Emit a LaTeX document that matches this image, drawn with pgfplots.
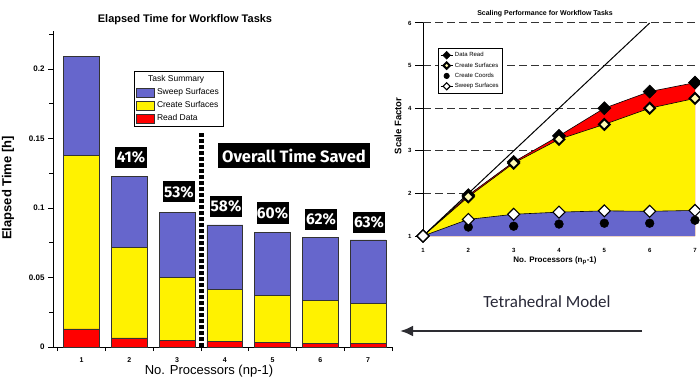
\documentclass[border=0pt]{standalone}
\usepackage{pgfplots}
\pgfplotsset{compat=1.18}
\usepackage{fontspec}
\setmainfont{Liberation Sans}
\newfontfamily\fira{Fira Sans}
\newfontfamily\carlito{Carlito}
\usetikzlibrary{arrows.meta}
\definecolor{sweepblue}{RGB}{102,102,204}
\definecolor{arrowgray}{RGB}{45,45,50}
\definecolor{tetra}{RGB}{40,40,55}
\pgfplotsset{patch legend/.style={legend image code/.code={\draw[##1] (0pt,-4.5pt) rectangle (18pt,4.5pt);}}}
\begin{document}
\begin{tikzpicture}[x=1pt,y=1pt]
\useasboundingbox (0,0) rectangle (700,383);
\fill[white] (0,0) rectangle (700,383);

% ---------------- left chart ----------------
\begin{axis}[
  at={(53pt,36pt)}, anchor=south west, scale only axis,
  width=339pt, height=315.5pt,
  xmin=0.4, xmax=7.5, ymin=0, ymax=0.227,
  axis x line*=bottom, axis y line*=left,
  axis line style={line width=0.8pt,-},
  ybar stacked, bar width=0.75,
  xtick={1,2,3,4,5,6,7}, xticklabels={1,2,3,4,5,6,7},
  minor xtick={0.5,1.5,2.5,3.5,4.5,5.5,6.5,7.5},
  major x tick style={draw=none},
  ytick={0,0.05,0.1,0.15,0.2}, yticklabels={0,0.05,0.1,0.15,0.2},
  minor ytick={0.025,0.075,0.125,0.175,0.225},
  tick align=outside, major tick length=5pt, minor tick length=4pt,
  tick style={line width=0.7pt,black},
  xticklabel style={font=\fontsize{7}{8}\selectfont\bfseries},
  xticklabel shift=2pt,
  yticklabel style={font=\fontsize{8}{9}\selectfont\bfseries},
  legend cell align=left, reverse legend,
  legend style={at={(0.239,0.875)}, anchor=north west, draw=black, line width=0.8pt,
    font=\fontsize{8.5}{10}\selectfont, row sep=1.5pt, inner sep=2pt},
]
\addplot[fill=red, draw=black!80, line width=0.6pt, patch legend] coordinates {(1,0.013)(2,0.0065)(3,0.0048)(4,0.0041)(5,0.0034)(6,0.0027)(7,0.0027)};
\addlegendentry{Read Data}
\addplot[fill=yellow, draw=black!80, line width=0.6pt, patch legend] coordinates {(1,0.125)(2,0.0649)(3,0.0452)(4,0.0376)(5,0.0338)(6,0.0306)(7,0.0287)};
\addlegendentry{Create Surfaces}
\addplot[fill=sweepblue, draw=black!80, line width=0.6pt, patch legend] coordinates {(1,0.071)(2,0.0516)(3,0.047)(4,0.0461)(5,0.0453)(6,0.0456)(7,0.0456)};
\addlegendentry{Sweep Surfaces}
\addlegendimage{empty legend}
\addlegendentry{\hspace*{-9pt}Task Summary}
\draw[line width=5pt, dash pattern=on 4pt off 2pt] (axis cs:3.5,0) -- (axis cs:3.5,0.154);
\end{axis}

% percentage labels
\tikzset{pct/.style={fill=black, text=white, inner sep=0pt, minimum width=32pt, minimum height=21pt, font=\fira\bfseries\fontsize{15.5}{15.5}\selectfont}}
\node[pct] at (131,383-157.5) {41\%};
\node[pct] at (179,383-192) {53\%};
\node[pct] at (226,383-206.5) {58\%};
\node[pct] at (272.5,383-213) {60\%};
\node[pct] at (321,383-219) {62\%};
\node[pct] at (369,383-222) {63\%};
\node[fill=black, text=white, inner sep=0pt, minimum width=152pt, minimum height=25pt, font=\fira\bfseries\fontsize{16.5}{16.5}\selectfont] at (294,383-155.5) {Overall Time Saved};

\node[font=\bfseries\fontsize{11}{12}\selectfont] at (185,383-20) {Elapsed Time for Workflow Tasks};
\node[rotate=90, font=\bfseries\fontsize{13}{14}\selectfont] at (8,383-188) {Elapsed Time [h]};
\node[font=\fontsize{13}{14}\selectfont] at (209,383-371) {No. Processors (np-1)};

% ---------------- right chart ----------------
\begin{axis}[
  at={(423pt,147pt)}, anchor=south west, scale only axis,
  width=272pt, height=213pt,
  xmin=1, xmax=7, ymin=1, ymax=6, clip=false,
  axis x line*=bottom, axis y line*=left,
  x axis line style={draw=none}, y axis line style={line width=1pt,-},
  xtick={1,2,3,4,5,6,7}, xticklabels={1,2,3,4,5,6,7}, xtick style={draw=none},
  ytick={2,3,4,5,6}, yticklabels={2,3,4,5,6},
  extra y ticks={1}, extra y tick labels={1}, extra y tick style={grid=none},
  ytick style={line width=1pt,black}, tick align=outside, major tick length=8pt,
  ymajorgrids, grid style={black!80, line width=1pt, dash pattern=on 8pt off 4pt},
  ticklabel style={font=\fontsize{6}{7}\selectfont\bfseries},
  xticklabel shift=1pt,
  legend cell align=left,
  legend style={at={(0.055,0.883)}, anchor=north west, draw=black, line width=0.8pt,
    font=\fontsize{6}{7}\selectfont, row sep=0.5pt, inner sep=2pt},
  legend image code/.code={\draw[mark repeat=2,mark phase=2,#1] plot coordinates {(0pt,0pt)(6pt,0pt)(12pt,0pt)};},
  legend image post style={/tikz/every mark/.append style={scale=0.6}},
]
\addplot[fill=red, draw=none, forget plot] coordinates {(1,1)(2,1.96)(3,2.74)(4,3.35)(5,4.0)(6,4.39)(7,4.6)(7,1)} -- cycle;
\addplot[fill=yellow, draw=none, forget plot] coordinates {(1,1)(2,1.92)(3,2.71)(4,3.27)(5,3.62)(6,4.0)(7,4.23)(7,1)} -- cycle;
\addplot[fill=sweepblue, draw=none, forget plot] coordinates {(1,1)(2,1.39)(3,1.51)(4,1.56)(5,1.59)(6,1.58)(7,1.6)(7,1)} -- cycle;
\addplot[black, line width=1pt, forget plot] coordinates {(1,1)(6,6)};
\addplot[black, line width=0.6pt, mark=square*, mark size=4.6pt, mark options={rotate=45, fill=black}] coordinates {(1,1)(2,1.96)(3,2.74)(4,3.35)(5,4.0)(6,4.39)(7,4.6)};
\addlegendentry{Data Read}
\addplot[black, line width=0.6pt, mark=square*, mark size=3.8pt, mark options={rotate=45, fill=yellow!30, line width=2pt}] coordinates {(1,1)(2,1.92)(3,2.71)(4,3.27)(5,3.62)(6,4.0)(7,4.23)};
\addlegendentry{Create Surfaces}
\addplot[black, only marks, mark=*, mark size=4.4pt, mark options={fill=black}] coordinates {(1,1)(2,1.21)(3,1.23)(4,1.28)(5,1.3)(6,1.3)(7,1.37)};
\addlegendentry{Create Coords}
\addplot[black, line width=0.6pt, mark=square*, mark size=4.2pt, mark options={rotate=45, fill=white, line width=1.1pt}] coordinates {(1,1)(2,1.39)(3,1.51)(4,1.56)(5,1.59)(6,1.58)(7,1.6)};
\addlegendentry{Sweep Surfaces}
\end{axis}

\node[font=\bfseries\fontsize{7}{8}\selectfont] at (545,383-14) {Scaling Performance for Workflow Tasks};
\node[rotate=90, font=\bfseries\fontsize{9.5}{10}\selectfont] at (398,383-126) {Scale Factor};
\node[font=\bfseries\fontsize{8}{9}\selectfont] at (555,383-261) {No. Processors (n\textsubscript{p}-1)};

% caption and arrow
\node[font=\carlito\fontsize{17}{18}\selectfont, text=tetra] at (547,383-302) {Tetrahedral Model};
\draw[arrowgray, line width=2.8pt, -{Latex[length=13pt,width=11pt]}] (642,383-331) -- (400,383-331);
\end{tikzpicture}
\end{document}
